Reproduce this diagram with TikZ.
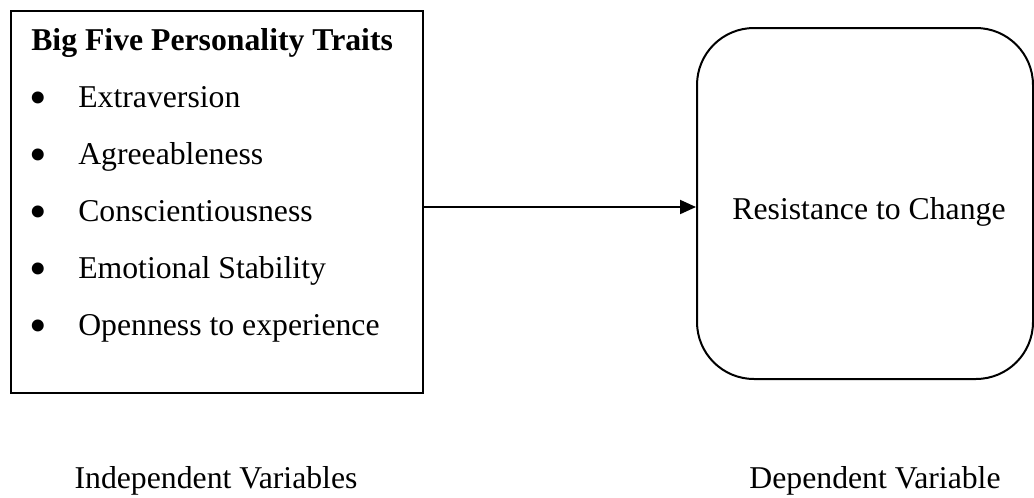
\documentclass[tikz,border=0pt]{standalone}
\usepackage{fontspec}
\setmainfont{Liberation Serif}
\usetikzlibrary{arrows.meta}
\begin{document}
\begin{tikzpicture}[x=0.75pt,y=-0.75pt,
  txt/.style={inner sep=0pt,font=\fontsize{23.8pt}{28pt}\selectfont},
  bul/.style={inner sep=0pt,anchor=base,font=\fontsize{37.5pt}{40pt}\selectfont},
  boxline/.style={draw=black,line width=1.5pt},
  conn/.style={line width=1.5pt,-{Triangle[length=12pt,width=10.5pt]}}]
\useasboundingbox (0,0) rectangle (1034,497);
% left box
\node[boxline,anchor=north west,minimum width=309.4pt,minimum height=286.9pt,inner sep=0pt] (iv) at (9.5,9.5) {};
\node[txt,anchor=base west,font=\fontsize{23.8pt}{28pt}\selectfont\bfseries] (title) at (31,50) {Big Five Personality Traits};
\node[bul] (b1) at (38,114) {\textbullet};
\node[txt,anchor=base west] (t1) at (78,107) {Extraversion};
\node[bul] (b2) at (38,171) {\textbullet};
\node[txt,anchor=base west] (t2) at (78,164) {Agreeableness};
\node[bul] (b3) at (38,228) {\textbullet};
\node[txt,anchor=base west] (t3) at (78,221) {Conscientiousness};
\node[bul] (b4) at (38,285) {\textbullet};
\node[txt,anchor=base west] (t4) at (78,278) {Emotional Stability};
\node[bul] (b5) at (38,342) {\textbullet};
\node[txt,anchor=base west] (t5) at (78,335) {Openness to experience};
% right box
\node[boxline,rounded corners=42.75pt,anchor=north west,minimum width=252pt,minimum height=263.25pt,inner sep=0pt] (dv) at (696,27) {};
\node[txt,anchor=base] (rtc) at (869,219) {Resistance to Change};
% arrow
\coordinate (ay) at (0,207);
\draw[conn] (iv.east |- ay) -- (dv.west |- ay);
% labels
\node[txt,anchor=base] (ivl) at (216,488) {Independent Variables};
\node[txt,anchor=base] (dvl) at (875,488) {Dependent Variable};
\end{tikzpicture}
\end{document}
